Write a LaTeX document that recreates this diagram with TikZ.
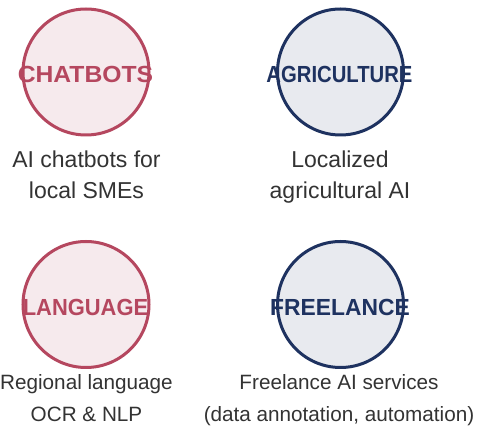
\documentclass[tikz,border=0pt]{standalone}
\usepackage{fontspec}
\setmainfont{Liberation Sans}
\usepackage{graphicx}
\definecolor{cred}{HTML}{B5475F}
\definecolor{credfill}{HTML}{F6EAED}
\definecolor{cblue}{HTML}{1E3260}
\definecolor{cbluefill}{HTML}{E8EAEF}
\definecolor{ctext}{HTML}{333333}
\tikzset{
  ring/.style={circle, minimum size=126pt, inner sep=0pt, line width=3pt},
  redring/.style={ring, draw=cred, fill=credfill},
  bluering/.style={ring, draw=cblue, fill=cbluefill},
  tag/.style={anchor=base, inner sep=0pt, font=\bfseries\fontsize{23.3}{28}\selectfont},
  toplabel/.style={anchor=base, align=center, inner sep=0pt, text=ctext, font=\fontsize{23}{30.5}\selectfont},
  botlabel/.style={anchor=base, align=center, inner sep=0pt, text=ctext, font=\fontsize{20.7}{32.3}\selectfont},
}
\begin{document}
\begin{tikzpicture}[x=1pt,y=-1pt]
\useasboundingbox[fill=white] (0,0) rectangle (482,427);
% circles
\node[redring]  (c1) at (86,72) {};
\node[bluering] (c2) at (340.5,72) {};
\node[redring]  (c3) at (86,304.5) {};
\node[bluering] (c4) at (340.5,304.5) {};
% tags
\node[tag, text=cred]  (t1) at (85.5,82.7)  {\scalebox{1.06}[1]{CHATBOTS}};
\node[tag, text=cblue] (t2) at (339.5,82.7) {\scalebox{0.87}[1]{AGRICULTURE}};
\node[tag, text=cred]  (t3) at (85.5,315.5) {\scalebox{0.94}[1]{LANGUAGE}};
\node[tag, text=cblue] (t4) at (340,315.5)  {\scalebox{0.98}[1]{FREELANCE}};
% labels (anchor = baseline of the last line)
\node[toplabel] (l1) at (86.5,198.2)  {AI chatbots for\\local SMEs};
\node[toplabel] (l2) at (340,198.2)   {Localized\\agricultural AI};
\node[botlabel] (l3) at (86.5,421.6)  {Regional language\\OCR \& NLP};
\node[botlabel] (l4) at (339,421.6)   {Freelance AI services\\(data annotation, automation)};
\end{tikzpicture}
\end{document}
